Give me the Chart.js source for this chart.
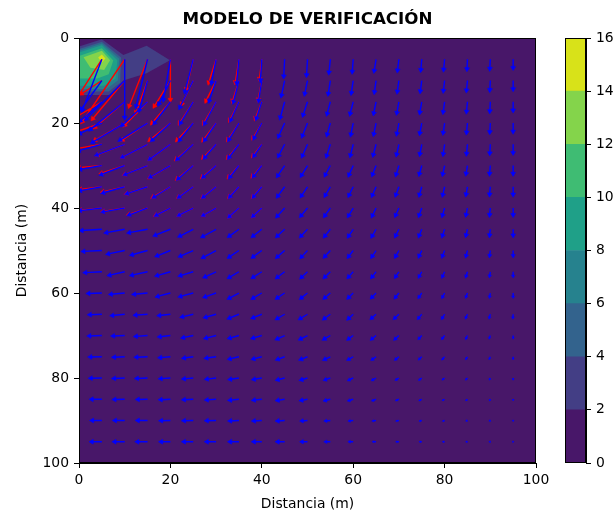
<!DOCTYPE html>
<html>
<head>
<meta charset="utf-8">
<title>Modelo de verificación</title>
<script src="https://cdn.jsdelivr.net/npm/chart.js"></script>
<style>
  html, body { margin: 0; padding: 0; background: #fff; }
  #wrap { position: relative; width: 615px; height: 514px; }
  #campo { position: absolute; left: 0; top: 0; }
  #barra { position: absolute; left: 555px; top: 0; }
</style>
</head>
<body>
<div id="wrap">
  <canvas id="campo" width="615" height="514"></canvas>
  <canvas id="barra" width="60" height="514"></canvas>
</div>
<script>
// arrow grid (m)
const xs = [5, 10, 15, 20, 25, 30, 35, 40, 45, 50, 55, 60, 65, 70, 75, 80, 85, 90, 95];
const ys = [5, 10, 15, 20, 25, 30, 35, 40, 45, 50, 55, 60, 65, 70, 75, 80, 85, 90, 95];

// blue field, one row per y value (dx, dy in m)
const azulU = [
  [-4.2, 0.0, -2.5, -1.5, -1.8, -1.0, -0.5, -0.3, -0.2, -0.2, -0.3, -0.2, -0.4, -0.3, -0.2, -0.2, -0.1, -0.1, 0.0],
  [-4.5, -8.4, -1.8, -2.5, -2.9, -1.5, -1.2, -0.7, -0.7, -0.6, -0.45, -0.4, -0.35, -0.35, -0.3, -0.25, -0.2, -0.1, 0.0],
  [-4.7, -7.5, -5.5, -3.5, -2.8, -2.5, -1.8, -1.2, -0.95, -0.95, -0.7, -0.65, -0.5, -0.45, -0.4, -0.3, -0.2, -0.1, 0.0],
  [-4.8, -7.0, -6.0, -4.0, -3.0, -2.5, -2.2, -1.7, -1.3, -1.1, -0.7, -0.5, -0.5, -0.45, -0.4, -0.3, -0.2, -0.1, 0.0],
  [-5.0, -6.1, -5.5, -4.5, -3.5, -2.5, -2.2, -1.7, -1.3, -1.1, -0.8, -0.6, -0.6, -0.5, -0.4, -0.3, -0.2, -0.1, 0.0],
  [-4.7, -5.1, -4.9, -4.4, -3.3, -2.8, -2.0, -1.8, -1.5, -1.3, -1.1, -0.9, -0.75, -0.6, -0.5, -0.4, -0.3, -0.15, 0.0],
  [-4.7, -4.7, -4.5, -3.6, -3.1, -2.8, -2.0, -1.8, -1.5, -1.3, -1.1, -0.9, -0.8, -0.65, -0.5, -0.4, -0.3, -0.15, 0.0],
  [-4.7, -4.7, -4.0, -3.1, -3.1, -2.8, -2.1, -1.9, -1.6, -1.4, -1.2, -1.0, -0.8, -0.7, -0.55, -0.45, -0.3, -0.15, 0.0],
  [-4.4, -4.0, -4.0, -3.3, -2.9, -2.9, -2.1, -1.9, -1.6, -1.4, -1.2, -1.0, -0.85, -0.7, -0.55, -0.45, -0.3, -0.15, 0.0],
  [-4.0, -3.6, -3.4, -2.9, -2.8, -2.8, -2.1, -1.9, -1.6, -1.3, -1.2, -1.0, -0.85, -0.7, -0.55, -0.45, -0.3, -0.15, 0.0],
  [-3.6, -3.3, -3.4, -2.9, -2.8, -2.4, -2.1, -1.9, -1.6, -1.3, -1.2, -1.0, -0.85, -0.7, -0.55, -0.45, -0.3, -0.15, 0.0],
  [-2.9, -3.0, -2.9, -2.8, -2.8, -2.4, -2.1, -1.9, -1.6, -1.35, -1.2, -1.0, -0.9, -0.75, -0.6, -0.45, -0.3, -0.15, 0.0],
  [-2.6, -2.7, -2.6, -2.4, -2.4, -2.3, -2.1, -1.9, -1.6, -1.55, -1.3, -1.0, -0.95, -0.9, -0.7, -0.5, -0.35, -0.2, -0.05],
  [-2.7, -2.5, -2.5, -2.3, -2.2, -2.2, -2.0, -1.9, -1.6, -1.5, -1.3, -1.0, -0.9, -0.8, -0.6, -0.5, -0.3, -0.2, 0.0],
  [-2.5, -2.3, -2.4, -2.2, -2.0, -2.1, -2.0, -1.8, -1.5, -1.4, -1.2, -1.0, -0.8, -0.7, -0.55, -0.45, -0.3, -0.2, 0.0],
  [-2.4, -2.3, -2.3, -2.1, -2.0, -2.0, -1.9, -1.7, -1.5, -1.3, -1.1, -0.9, -0.75, -0.6, -0.5, -0.4, -0.3, -0.15, 0.0],
  [-2.2, -2.2, -2.1, -2.1, -2.0, -2.0, -1.9, -1.7, -1.5, -1.3, -1.1, -0.9, -0.7, -0.55, -0.45, -0.35, -0.25, -0.1, 0.0],
  [-2.1, -2.1, -2.1, -2.0, -2.0, -2.0, -1.9, -1.7, -1.5, -1.2, -1.0, -0.8, -0.65, -0.5, -0.4, -0.3, -0.2, -0.1, 0.0],
  [-2.2, -2.2, -2.2, -2.0, -2.0, -2.0, -1.9, -1.7, -1.5, -1.2, -1.0, -0.8, -0.6, -0.5, -0.4, -0.3, -0.2, -0.1, 0.0]
];
const azulV = [
  [11.9, 13.7, 11.0, 9.5, 7.6, 5.5, 5.6, 4.9, 4.0, 3.7, 3.1, 2.9, 2.7, 2.6, 2.5, 2.4, 2.3, 2.2, 2.0],
  [6.7, 9.0, 7.0, 5.5, 6.3, 4.8, 5.0, 4.7, 3.5, 3.1, 3.1, 2.9, 2.7, 2.6, 2.5, 2.4, 2.3, 2.2, 2.0],
  [4.5, 6.5, 5.5, 5.0, 5.0, 5.1, 4.3, 3.9, 3.7, 3.1, 2.8, 2.8, 2.7, 2.6, 2.5, 2.4, 2.3, 2.2, 2.0],
  [2.5, 4.5, 4.0, 4.0, 4.0, 4.0, 3.9, 3.5, 3.1, 3.0, 2.7, 2.7, 2.6, 2.5, 2.4, 2.3, 2.2, 2.1, 2.0],
  [1.5, 2.5, 3.0, 3.5, 3.5, 3.1, 3.1, 2.7, 2.7, 2.7, 2.7, 2.6, 2.5, 2.4, 2.3, 2.3, 2.2, 2.1, 2.0],
  [0.9, 2.1, 2.1, 2.7, 3.1, 2.7, 2.7, 2.5, 2.4, 2.3, 2.2, 2.2, 2.1, 2.1, 2.0, 2.0, 1.9, 1.9, 1.9],
  [0.9, 1.4, 1.6, 2.4, 2.4, 2.4, 2.35, 2.3, 2.2, 2.1, 2.0, 2.0, 2.0, 1.9, 1.9, 1.9, 1.8, 1.8, 1.8],
  [0.6, 0.9, 1.6, 1.7, 1.7, 1.7, 2.0, 1.9, 1.9, 1.8, 1.8, 1.8, 1.8, 1.7, 1.7, 1.7, 1.6, 1.6, 1.6],
  [0.3, 0.8, 0.8, 1.4, 1.6, 1.7, 1.6, 1.6, 1.6, 1.6, 1.6, 1.6, 1.6, 1.5, 1.5, 1.5, 1.4, 1.4, 1.4],
  [0.2, 0.8, 1.0, 1.25, 1.3, 1.6, 1.5, 1.5, 1.5, 1.5, 1.4, 1.4, 1.4, 1.35, 1.3, 1.3, 1.25, 1.2, 1.2],
  [0.2, 0.8, 0.8, 0.9, 0.9, 1.2, 1.3, 1.3, 1.3, 1.3, 1.25, 1.2, 1.2, 1.15, 1.1, 1.1, 1.05, 1.0, 1.0],
  [0.1, 0.3, 0.3, 0.8, 0.8, 0.9, 1.2, 1.2, 1.15, 1.15, 1.1, 1.05, 1.0, 1.0, 0.95, 0.95, 0.9, 0.9, 0.9],
  [0.1, 0.3, 0.2, 0.3, 0.6, 0.7, 0.9, 0.8, 1.0, 1.0, 1.0, 1.0, 0.9, 0.9, 0.9, 0.9, 0.8, 0.8, 0.8],
  [0.1, 0.1, 0.2, 0.3, 0.5, 0.6, 0.6, 0.6, 0.8, 0.8, 0.8, 0.8, 0.8, 0.8, 0.7, 0.7, 0.7, 0.6, 0.6],
  [0.05, 0.1, 0.1, 0.2, 0.3, 0.3, 0.5, 0.5, 0.6, 0.6, 0.6, 0.6, 0.6, 0.6, 0.55, 0.55, 0.5, 0.5, 0.5],
  [0.05, 0.1, 0.1, 0.15, 0.2, 0.25, 0.3, 0.3, 0.4, 0.4, 0.4, 0.45, 0.45, 0.4, 0.4, 0.35, 0.35, 0.3, 0.3],
  [0.0, 0.05, 0.05, 0.1, 0.1, 0.15, 0.2, 0.2, 0.25, 0.25, 0.3, 0.3, 0.3, 0.25, 0.25, 0.2, 0.2, 0.2, 0.15],
  [0.0, 0.0, 0.0, 0.05, 0.05, 0.05, 0.1, 0.1, 0.1, 0.1, 0.1, 0.1, 0.1, 0.1, 0.1, 0.1, 0.05, 0.05, 0.05],
  [0.0, 0.0, 0.0, 0.0, 0.0, 0.0, 0.0, 0.0, 0.0, 0.0, 0.0, 0.0, 0.0, 0.0, 0.0, 0.0, 0.0, 0.0, 0.0]
];

// red field, only the top-left block where it separates from the blue one
const rojoX = [5, 10, 15, 20, 25, 30, 35, 40];
const rojoY = [5, 10, 15, 20, 25, 30, 35, 40];
const rojoU = [
  [-6.0, -9.3, -4.0, 0.0, -1.5, -1.6, -0.8, -0.5],
  [-4.4, -7.0, -2.5, -3.5, -2.5, -2.2, -1.4, -0.8],
  [-5.5, -6.5, -5.0, -4.0, -3.0, -2.7, -2.0, -1.4],
  [-5.5, -6.5, -5.5, -4.5, -3.5, -2.8, -2.4, -1.9],
  [-5.5, -6.0, -5.5, -4.5, -3.7, -2.8, -2.4, -1.9],
  [-5.0, -5.1, -5.0, -4.5, -3.5, -3.0, -2.2, -2.0],
  [-4.7, -4.8, -4.6, -3.8, -3.2, -2.9, -2.1, -1.9],
  [-4.7, -4.7, -4.1, -3.2, -3.1, -2.8, -2.1, -1.9]
];
const rojoV = [
  [10.0, 14.7, 11.0, 9.5, 7.0, 5.5, 5.4, 4.6],
  [3.1, 9.0, 7.5, 6.0, 5.5, 4.8, 4.8, 4.5],
  [3.5, 6.0, 5.5, 5.0, 5.0, 5.0, 4.3, 3.9],
  [2.0, 4.0, 4.0, 4.0, 4.0, 4.0, 3.9, 3.5],
  [1.0, 2.5, 3.0, 3.5, 3.5, 3.1, 3.1, 2.7],
  [0.5, 1.8, 2.1, 2.8, 3.1, 2.7, 2.7, 2.5],
  [0.6, 1.2, 1.6, 2.4, 2.4, 2.4, 2.35, 2.3],
  [0.5, 0.8, 1.5, 1.7, 1.7, 1.7, 2.0, 1.9]
];

// filled contour levels and the region (x, y in m) above each level
const niveles = [0, 2, 4, 6, 8, 10, 12, 14, 16];
const regiones = [
  [[0, 0], [100, 0], [100, 100], [0, 100]],
  [[0, 2.0], [5, 0.3], [9.7, 4.0], [14.8, 1.8], [19.9, 5.2], [14.8, 8.3], [9.7, 10.0], [7, 13.4], [0, 13.4]],
  [[0, 2.6], [5, 0.9], [9.2, 4.6], [9.0, 10.5], [6.5, 12.6], [0, 12.6]],
  [[0, 3.0], [5, 1.3], [8.8, 4.9], [8.5, 10.0], [6.0, 12.0], [0, 12.0]],
  [[0, 3.4], [5, 1.7], [8.4, 5.2], [8.0, 9.5], [5.5, 11.2], [0, 11.2]],
  [[0, 4.2], [5, 2.4], [7.5, 5.3], [6.5, 8.5], [4.0, 9.5], [0, 9.5]],
  [[1, 4.5], [5, 3.0], [6.8, 5.2], [5.5, 7.5], [2.5, 7.0]],
  [[4.2, 4.6], [5, 3.9], [5.8, 4.8], [5, 5.8]]
];
const colores = ['#481769', '#433e85', '#33638d', '#26828e', '#1fa088', '#3fbc73', '#84d44b', '#d8e219'];

const fuente = { family: 'DejaVu Sans', size: 13.9 };

function flechas(xv, yv, U, V) {
  const pts = [];
  yv.forEach((y, j) => {
    xv.forEach((x, i) => {
      pts.push({ x: x, y: y }, { x: x + U[j][i], y: y + V[j][i] }, { x: null, y: null });
    });
  });
  return pts;
}

// pixel vector of the arrow that ends at this point
function vector(ctx) {
  const d = ctx.dataset.data, i = ctx.dataIndex;
  const sx = ctx.chart.scales.x, sy = ctx.chart.scales.y;
  return {
    dx: sx.getPixelForValue(d[i].x) - sx.getPixelForValue(d[i - 1].x),
    dy: sy.getPixelForValue(d[i].y) - sy.getPixelForValue(d[i - 1].y)
  };
}

function serieFlechas(pts, color, orden) {
  return {
    data: pts,
    order: orden,
    borderColor: color,
    borderWidth: 1.4,
    spanGaps: false,
    fill: false,
    pointStyle: 'triangle',
    pointBackgroundColor: color,
    pointBorderColor: color,
    pointBorderWidth: 0.5,
    pointRadius: ctx => {
      if (ctx.dataIndex % 3 !== 1) return 0;
      const v = vector(ctx);
      return Math.max(1, Math.min(2.8, Math.hypot(v.dx, v.dy) * 0.45));
    },
    pointRotation: ctx => {
      if (ctx.dataIndex % 3 !== 1) return 0;
      const v = vector(ctx);
      return Math.atan2(v.dy, v.dx) * 180 / Math.PI + 90;
    }
  };
}

const marco = {
  id: 'marco',
  afterDraw(chart) {
    const a = chart.chartArea, c = chart.ctx;
    c.save();
    c.strokeStyle = '#000';
    c.lineWidth = 1;
    c.strokeRect(Math.round(a.left) + 0.5, Math.round(a.top) + 0.5, Math.round(a.right - a.left) - 1, Math.round(a.bottom - a.top) - 1);
    c.restore();
  }
};

const capas = regiones.map((r, k) => ({
  data: r.concat([r[0]]).map(p => ({ x: p[0], y: p[1] })),
  order: 20 - k,
  borderColor: 'rgba(0,0,0,0)',
  borderWidth: 0,
  backgroundColor: colores[k],
  fill: 'shape',
  pointRadius: 0
}));

new Chart(document.getElementById('campo'), {
  type: 'line',
  data: {
    datasets: capas.concat([
      serieFlechas(flechas(rojoX, rojoY, rojoU, rojoV), '#ff0000', 1),
      serieFlechas(flechas(xs, ys, azulU, azulV), '#0000ff', 0)
    ])
  },
  options: {
    responsive: false,
    animation: false,
    events: [],
    layout: { padding: { left: 0, right: 79, top: 0, bottom: 0 } },
    plugins: {
      legend: { display: false },
      tooltip: { enabled: false },
      title: {
        display: true,
        fullSize: false,
        text: 'MODELO DE VERIFICACIÓN',
        color: '#000',
        font: { family: 'DejaVu Sans', size: 16.7, weight: 'bold', lineHeight: 1.2 },
        padding: { top: 10, bottom: 8 }
      }
    },
    scales: {
      x: {
        type: 'linear',
        min: 0, max: 100,
        ticks: { stepSize: 20, color: '#000', font: fuente, padding: 4, maxRotation: 0 },
        grid: { drawOnChartArea: false, color: '#000', tickLength: 5 },
        border: { color: '#000' },
        title: { display: true, text: 'Distancia (m)', color: '#000', font: fuente, padding: { top: 0, bottom: 1 } },
        afterFit: s => { s.height = 51; }
      },
      y: {
        type: 'linear',
        reverse: true,
        min: 0, max: 100,
        ticks: { stepSize: 20, color: '#000', font: fuente, padding: 5 },
        grid: { drawOnChartArea: false, color: '#000', tickLength: 5 },
        border: { color: '#000' },
        title: { display: true, text: 'Distancia (m)', color: '#000', font: fuente, padding: { top: 14, bottom: 0 } },
        afterFit: s => { s.width = 79; }
      }
    }
  },
  plugins: [marco]
});

// colour bar
new Chart(document.getElementById('barra'), {
  type: 'bar',
  data: {
    labels: [''],
    datasets: colores.map((c, k) => ({
      data: [niveles[k + 1] - niveles[k]],
      backgroundColor: c,
      borderWidth: 0,
      barPercentage: 1,
      categoryPercentage: 1
    }))
  },
  options: {
    responsive: false,
    animation: false,
    events: [],
    layout: { padding: { left: 10, right: 0, top: 38, bottom: 51 } },
    plugins: { legend: { display: false }, tooltip: { enabled: false } },
    scales: {
      x: { stacked: true, display: false },
      y: {
        stacked: true,
        position: 'right',
        min: 0, max: 16,
        ticks: { stepSize: 2, color: '#000', font: fuente, padding: 5 },
        grid: { drawOnChartArea: false, color: '#000', tickLength: 5 },
        border: { color: '#000' },
        afterFit: s => { s.width = 29; }
      }
    }
  },
  plugins: [marco]
});
</script>
</body>
</html>
